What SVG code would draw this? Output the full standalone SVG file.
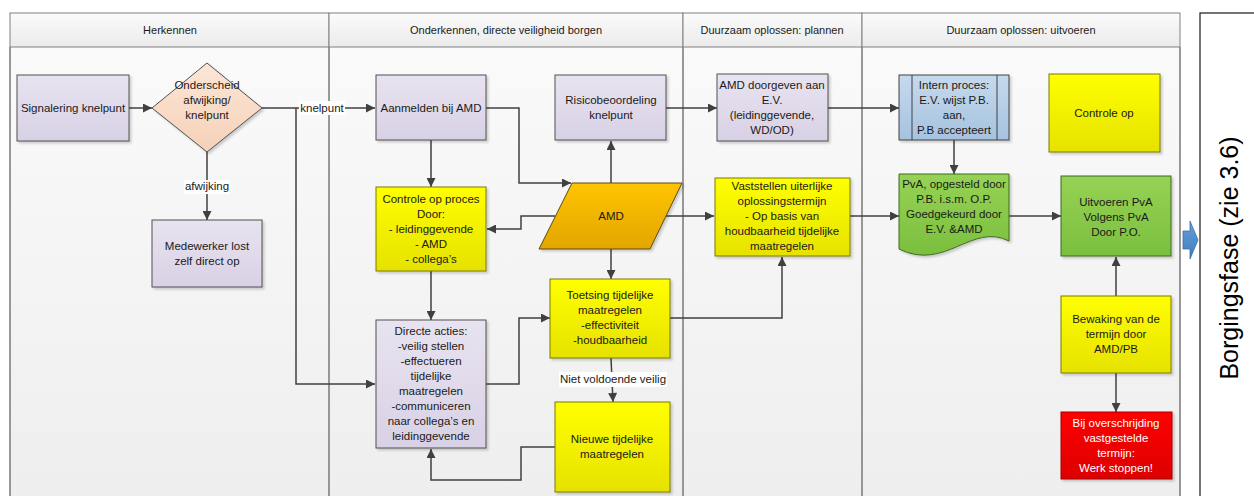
<svg xmlns="http://www.w3.org/2000/svg" width="1254" height="496" viewBox="0 0 1254 496">
<defs>
<linearGradient id="gLane" x1="0" y1="0" x2="0" y2="1"><stop offset="0" stop-color="#fafafa"/><stop offset="1" stop-color="#eeeeee"/></linearGradient>
<linearGradient id="gHead" x1="0" y1="0" x2="0" y2="1"><stop offset="0" stop-color="#fbfbfb"/><stop offset="1" stop-color="#ebebeb"/></linearGradient>
<linearGradient id="gPurple" x1="0" y1="0" x2="0" y2="1"><stop offset="0" stop-color="#e8e3f0"/><stop offset="1" stop-color="#d8d1e5"/></linearGradient>
<linearGradient id="gYellow" x1="0" y1="0" x2="0" y2="1"><stop offset="0" stop-color="#ffff00"/><stop offset="1" stop-color="#e6e200"/></linearGradient>
<linearGradient id="gPeach" x1="0" y1="0" x2="0" y2="1"><stop offset="0" stop-color="#fce6d6"/><stop offset="1" stop-color="#f5d1b8"/></linearGradient>
<linearGradient id="gOrange" x1="0" y1="0" x2="0" y2="1"><stop offset="0" stop-color="#ffc400"/><stop offset="1" stop-color="#e2a600"/></linearGradient>
<linearGradient id="gBlue" x1="0" y1="0" x2="0" y2="1"><stop offset="0" stop-color="#c6daee"/><stop offset="1" stop-color="#a5c2df"/></linearGradient>
<linearGradient id="gGreen" x1="0" y1="0" x2="0" y2="1"><stop offset="0" stop-color="#96d255"/><stop offset="1" stop-color="#7bbf3e"/></linearGradient>
<linearGradient id="gRed" x1="0" y1="0" x2="0" y2="1"><stop offset="0" stop-color="#ff0000"/><stop offset="1" stop-color="#dc0000"/></linearGradient>
<linearGradient id="gArrow" x1="0" y1="0" x2="0" y2="1"><stop offset="0" stop-color="#6a9fd8"/><stop offset="1" stop-color="#3f7cc0"/></linearGradient>
<filter id="sh" x="-10%" y="-10%" width="130%" height="130%"><feDropShadow dx="2" dy="2" stdDeviation="1" flood-color="#000" flood-opacity="0.18"/></filter>
<marker id="ah" viewBox="0 0 10 10" refX="10" refY="5" markerWidth="10" markerHeight="9" orient="auto" markerUnits="userSpaceOnUse"><path d="M0,0 L10,5 L0,10 z" fill="#404040"/></marker>
<style>
text{font-family:"Liberation Sans",Arial,sans-serif;font-size:11.5px;fill:#1a1a1a;text-anchor:middle}
.hd{font-size:11px}
.wt{fill:#ffffff}
.big{font-size:25px;fill:#000}
.lane{fill:url(#gLane);stroke:none}
.head{fill:url(#gHead);stroke:#808080;stroke-width:1}
.div{stroke:#808080;stroke-width:1.6;fill:none}
.purple{fill:url(#gPurple);stroke:#505050;stroke-width:1;filter:url(#sh)}
.yellow{fill:url(#gYellow);stroke:#7a7a00;stroke-width:1;filter:url(#sh)}
.peach{fill:url(#gPeach);stroke:#505050;stroke-width:1;filter:url(#sh)}
.orange{fill:url(#gOrange);stroke:#5a4a10;stroke-width:1;filter:url(#sh)}
.blue{fill:url(#gBlue);stroke:#404040;stroke-width:1;filter:url(#sh)}
.green{fill:url(#gGreen);stroke:#3d6b20;stroke-width:1;filter:url(#sh)}
.red{fill:url(#gRed);stroke:#a00000;stroke-width:1;filter:url(#sh)}
.c{fill:none;stroke:#404040;stroke-width:1.5;marker-end:url(#ah)}
.lbl{fill:#ffffff;stroke:none}
</style>
</defs>
<rect x="0" y="0" width="1254" height="496" fill="#ffffff"/>
<g id="pool">
<rect class="lane" x="10" y="47" width="1170" height="460"/>
<rect class="head" x="10" y="13" width="319" height="34"/>
<rect class="head" x="329" y="13" width="354" height="34"/>
<rect class="head" x="683" y="13" width="179" height="34"/>
<rect class="head" x="862" y="13" width="318" height="34"/>
<path class="div" d="M10,47 V500 M329,47 V500 M683,47 V500 M862,47 V500 M1180,47 V500"/>
<text class="hd" x="170" y="34">Herkennen</text>
<text class="hd" x="506" y="34">Onderkennen, directe veiligheid borgen</text>
<text class="hd" x="772" y="34">Duurzaam oplossen: plannen</text>
<text class="hd" x="1021" y="34">Duurzaam oplossen: uitvoeren</text>
</g>
<g id="borgingsfase">
<rect x="1200" y="13" width="60" height="500" fill="#ffffff" stroke="#1a1a1a" stroke-width="1.2"/>
<text class="big" transform="translate(1238,258) rotate(-90)">Borgingsfase (zie 3.6)</text>
</g>
<g id="block-arrow">
<path d="M1183,231 H1190 V221 L1198,240 L1190,259 V249 H1183 Z" fill="url(#gArrow)" stroke="#3a6ea5" stroke-width="0.8"/>
</g>
<g id="connectors">
<path class="c" d="M129,108 H152"/>
<path class="c" d="M262,108 H375"/>
<path class="c" d="M296,108 V384 H375"/>
<path class="c" d="M207,152 V220"/>
<path class="c" d="M431,140 V187"/>
<path class="c" d="M486,108 H519 V183 H571"/>
<path class="c" d="M611,183 V141"/>
<path class="c" d="M555,216 H521 V229 H487"/>
<path class="c" d="M611,249 V279"/>
<path class="c" d="M431,271 V320"/>
<path class="c" d="M486,384 H519 V318 H550"/>
<path class="c" d="M611,358 L613,402"/>
<path class="c" d="M555,447 H521 V480 H431 V449"/>
<path class="c" d="M670,318 H782 V257"/>
<path class="c" d="M666,108 H717"/>
<path class="c" d="M666,216 H714"/>
<path class="c" d="M828,108 H899"/>
<path class="c" d="M850,216 H899"/>
<path class="c" d="M954,140 V174"/>
<path class="c" d="M1009,216 H1061"/>
<path class="c" d="M1116,296 V257"/>
<path class="c" d="M1116,373 V412"/>
<rect class="lbl" x="299" y="101" width="46" height="14"/>
<text x="322" y="112">knelpunt</text>
<rect class="lbl" x="184" y="180" width="46" height="14"/>
<text x="207" y="190">afwijking</text>
<rect class="lbl" x="559" y="372" width="108" height="15"/>
<text x="613" y="383">Niet voldoende veilig</text>
</g>
<g id="n-signalering">
<rect class="purple" x="17" y="75" width="112" height="66"/>
<text x="73" y="112">Signalering knelpunt</text>
</g>
<g id="n-onderscheid">
<polygon class="peach" points="207,63 262,108 207,152 152,108"/>
<text x="207" y="89">Onderscheid</text>
<text x="207" y="104">afwijking/</text>
<text x="207" y="119">knelpunt</text>
</g>
<g id="n-medewerker">
<rect class="purple" x="152" y="220" width="110" height="67"/>
<text x="207" y="250">Medewerker lost</text>
<text x="207" y="265">zelf direct op</text>
</g>
<g id="n-aanmelden">
<rect class="purple" x="376" y="75" width="110" height="65"/>
<text x="431" y="112">Aanmelden bij AMD</text>
</g>
<g id="n-risico">
<rect class="purple" x="555" y="75" width="111" height="65"/>
<text x="611" y="104">Risicobeoordeling</text>
<text x="611" y="119">knelpunt</text>
</g>
<g id="n-controle-proces">
<rect class="yellow" x="376" y="187" width="110" height="84"/>
<text x="431" y="203">Controle op proces</text>
<text x="431" y="218">Door:</text>
<text x="431" y="233">- leidinggevende</text>
<text x="431" y="248">- AMD</text>
<text x="431" y="263">- collega’s</text>
</g>
<g id="n-amd">
<polygon class="orange" points="572,183 682,183 650,249 539,249"/>
<text x="611" y="220">AMD</text>
</g>
<g id="n-toetsing">
<rect class="yellow" x="550" y="279" width="120" height="79"/>
<text x="610" y="299">Toetsing tijdelijke</text>
<text x="610" y="314">maatregelen</text>
<text x="610" y="329">-effectiviteit</text>
<text x="610" y="344">-houdbaarheid</text>
</g>
<g id="n-directe">
<rect class="purple" x="376" y="320" width="110" height="128"/>
<text x="431" y="335">Directe acties:</text>
<text x="431" y="350">-veilig stellen</text>
<text x="431" y="365">-effectueren</text>
<text x="431" y="380">tijdelijke</text>
<text x="431" y="395">maatregelen</text>
<text x="431" y="410">-communiceren</text>
<text x="431" y="425">naar collega’s en</text>
<text x="431" y="440">leidinggevende</text>
</g>
<g id="n-nieuwe">
<rect class="yellow" x="555" y="402" width="115" height="90"/>
<text x="612" y="443">Nieuwe tijdelijke</text>
<text x="612" y="458">maatregelen</text>
</g>
<g id="n-doorgeven">
<rect class="purple" x="717" y="74" width="111" height="67"/>
<text x="772" y="89">AMD doorgeven aan</text>
<text x="772" y="104">E.V.</text>
<text x="772" y="119">(leidinggevende,</text>
<text x="772" y="134">WD/OD)</text>
</g>
<g id="n-vaststellen">
<rect class="yellow" x="715" y="178" width="135" height="78"/>
<text x="782" y="190">Vaststellen uiterlijke</text>
<text x="782" y="205">oplossingstermijn</text>
<text x="782" y="220">- Op basis van</text>
<text x="782" y="235">houdbaarheid tijdelijke</text>
<text x="782" y="250">maatregelen</text>
</g>
<g id="n-intern">
<rect class="blue" x="899" y="75" width="110" height="65"/>
<path d="M912,75 V140 M997,75 V140" stroke="#404040" stroke-width="1" fill="none"/>
<text x="954" y="89">Intern proces:</text>
<text x="954" y="104">E.V. wijst P.B.</text>
<text x="954" y="119">aan,</text>
<text x="954" y="134">P.B accepteert</text>
</g>
<g id="n-pva">
<path class="green" d="M899,174 H1009 V241 C972,222 945,272 899,249 Z"/>
<text x="954" y="188">PvA, opgesteld door</text>
<text x="954" y="203">P.B. i.s.m. O.P.</text>
<text x="954" y="218">Goedgekeurd door</text>
<text x="954" y="233">E.V. &amp;AMD</text>
</g>
<g id="n-controle-op">
<rect class="yellow" x="1049" y="74" width="111" height="78"/>
<text x="1104" y="117">Controle op</text>
</g>
<g id="n-uitvoeren">
<rect class="green" x="1061" y="176" width="110" height="80"/>
<text x="1116" y="206">Uitvoeren PvA</text>
<text x="1116" y="221">Volgens PvA</text>
<text x="1116" y="236">Door P.O.</text>
</g>
<g id="n-bewaking">
<rect class="yellow" x="1061" y="296" width="110" height="77"/>
<text x="1116" y="323">Bewaking van de</text>
<text x="1116" y="338">termijn door</text>
<text x="1116" y="353">AMD/PB</text>
</g>
<g id="n-overschrijding">
<rect class="red" x="1061" y="412" width="111" height="67"/>
<text class="wt" x="1116" y="427">Bij overschrijding</text>
<text class="wt" x="1116" y="442">vastgestelde</text>
<text class="wt" x="1116" y="457">termijn:</text>
<text class="wt" x="1116" y="472">Werk stoppen!</text>
</g>
</svg>
